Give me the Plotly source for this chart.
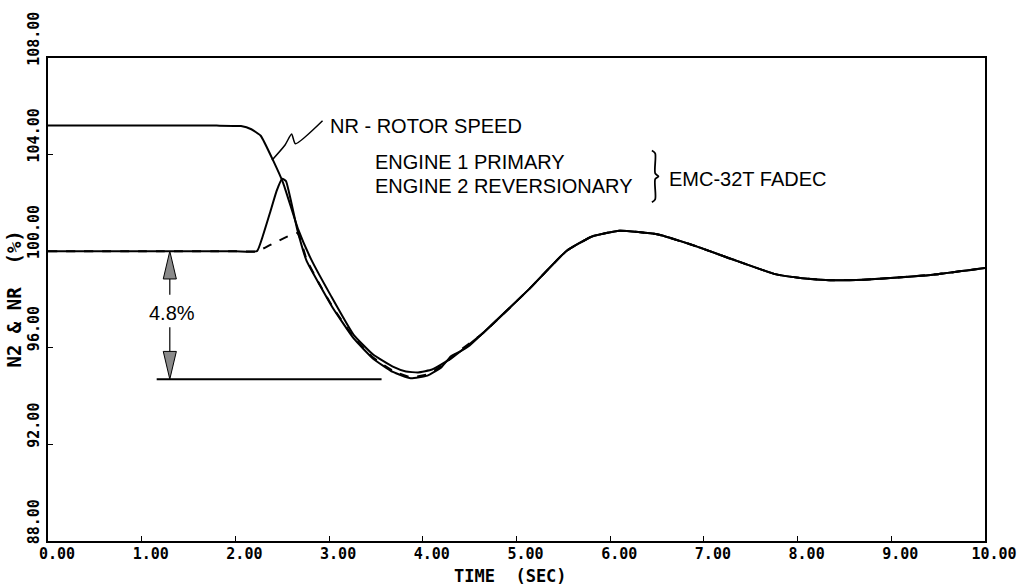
import plotly.graph_objects as go

# ---------------- data ----------------
time_ticks = [0, 1, 2, 3, 4, 5, 6, 7, 8, 9, 10]
time_tick_text = ["0.00", "1.00", "2.00", "3.00", "4.00", "5.00", "6.00", "7.00", "8.00", "9.00", "10.00"]
pct_ticks = [88, 92, 96, 100, 104, 108]
pct_tick_text = ["88.00", "92.00", "96.00", "100.00", "104.00", "108.00"]
x_title = "TIME  (SEC)"
y_title = "N2 & NR  (%)"

# NR - rotor speed (solid)
nr_t = [0.0, 1.0, 1.8, 2.06, 2.17, 2.27, 2.40, 2.51, 2.67, 2.81, 3.02, 3.26, 3.47, 3.68, 3.82, 3.95, 4.10, 4.30,
        4.64, 5.14, 5.53, 5.80, 6.10, 6.50, 6.92, 7.35, 7.76, 8.05, 8.35, 8.70, 9.03, 9.50, 10.0]
nr_v = [105.2, 105.2, 105.2, 105.18, 105.05, 104.78, 103.78, 102.82, 100.9, 99.65, 98.15, 96.55, 95.72, 95.22, 95.02, 94.98, 95.1, 95.55,
        96.6, 98.45, 100.0, 100.6, 100.85, 100.7, 100.2, 99.6, 99.05, 98.88, 98.8, 98.82, 98.9, 99.05, 99.3]

# N2 engine 1 (solid, spikes up)
n2a_t = [0.0, 1.0, 2.0, 2.23, 2.29, 2.37, 2.44, 2.50, 2.54, 2.66, 2.76, 2.90, 3.04, 3.26, 3.47, 3.68, 3.87, 4.05, 4.20, 4.30,
         4.40, 4.50, 4.64, 5.14, 5.53, 5.80, 6.10, 6.50, 6.92, 7.35, 7.76, 8.05, 8.35, 8.70, 9.03, 9.50, 10.0]
n2a_v = [100.0, 100.0, 100.0, 100.0, 100.6, 101.6, 102.5, 103.0, 102.9, 100.9, 99.6, 98.6, 97.65, 96.4, 95.55, 95.0, 94.74, 94.85, 95.2, 95.65,
         95.85, 96.1, 96.6, 98.45, 100.0, 100.6, 100.85, 100.7, 100.2, 99.6, 99.05, 98.88, 98.8, 98.82, 98.9, 99.05, 99.3]

# N2 engine 2 (dashed, gentle rise)
n2b_t = [0.0, 1.0, 2.0, 2.23, 2.66, 2.76, 2.90, 3.04, 3.26, 3.47, 3.68, 3.87, 4.05, 4.20, 4.40, 4.64, 5.14, 5.53, 5.80, 6.10,
         6.50, 6.92, 7.35, 7.76, 8.05, 8.35, 8.70, 9.03, 9.50, 10.0]
n2b_v = [100.0, 100.0, 100.0, 100.0, 100.75, 99.65, 98.62, 97.68, 96.45, 95.6, 95.05, 94.78, 94.9, 95.25, 95.9, 96.6, 98.45, 100.0, 100.6, 100.85,
         100.7, 100.2, 99.6, 99.05, 98.88, 98.8, 98.82, 98.9, 99.05, 99.3]

# droop dimension
droop_t = 1.30
droop_top = 100.0
droop_bottom = 94.7
droop_line_t = [1.16, 3.56]
droop_label = "4.8%"

# leader from the NR curve to its label
leader_t = [2.39, 2.53, 2.60, 2.64, 2.93]
leader_v = [103.77, 104.4, 104.85, 104.45, 105.4]

# brace grouping the two engine lines
brace_t = 6.48
brace_v = 103.1
brace_half = 1.07   # half height in % units

BLACK = "#000000"
MONO = "DejaVu Sans Mono"
SANS = "Liberation Sans, Arial, sans-serif"

fig = go.Figure()

spl = dict(shape="spline", smoothing=0.4)
fig.add_trace(go.Scatter(x=n2b_t, y=n2b_v, mode="lines",
                         line=dict(color=BLACK, width=2, dash="dash", **spl),
                         showlegend=False, hoverinfo="skip"))
fig.add_trace(go.Scatter(x=n2a_t, y=n2a_v, mode="lines",
                         line=dict(color=BLACK, width=2, **spl),
                         showlegend=False, hoverinfo="skip"))
fig.add_trace(go.Scatter(x=nr_t, y=nr_v, mode="lines",
                         line=dict(color=BLACK, width=2, **spl),
                         showlegend=False, hoverinfo="skip"))

# leader line
fig.add_trace(go.Scatter(x=leader_t, y=leader_v, mode="lines",
                         line=dict(color=BLACK, width=1.5, shape="spline", smoothing=0.6),
                         showlegend=False, hoverinfo="skip"))

# droop reference line
fig.add_trace(go.Scatter(x=droop_line_t, y=[droop_bottom, droop_bottom], mode="lines",
                         line=dict(color=BLACK, width=2), showlegend=False, hoverinfo="skip"))

# dimension arrow shafts
head_len = 1.15   # in % units
head_half = 0.07  # in seconds
label_v = (droop_top + droop_bottom) / 2 + 0.1
fig.add_trace(go.Scatter(x=[droop_t, droop_t], y=[droop_top - head_len, label_v + 0.75], mode="lines",
                         line=dict(color=BLACK, width=1.2), showlegend=False, hoverinfo="skip"))
fig.add_trace(go.Scatter(x=[droop_t, droop_t], y=[label_v - 0.6, droop_bottom + head_len], mode="lines",
                         line=dict(color=BLACK, width=1.2), showlegend=False, hoverinfo="skip"))
# arrow heads
fig.add_trace(go.Scatter(x=[droop_t, droop_t - head_half, droop_t + head_half, droop_t],
                         y=[droop_top, droop_top - head_len, droop_top - head_len, droop_top],
                         mode="lines", fill="toself", fillcolor="#8a8a8a",
                         line=dict(color=BLACK, width=1), showlegend=False, hoverinfo="skip"))
fig.add_trace(go.Scatter(x=[droop_t, droop_t - head_half, droop_t + head_half, droop_t],
                         y=[droop_bottom, droop_bottom + head_len, droop_bottom + head_len, droop_bottom],
                         mode="lines", fill="toself", fillcolor="#8a8a8a",
                         line=dict(color=BLACK, width=1), showlegend=False, hoverinfo="skip"))

# brace "}" drawn as a thin line
bw = 0.035
fig.add_trace(go.Scatter(
    x=[brace_t - bw, brace_t, brace_t, brace_t + bw, brace_t, brace_t, brace_t - bw],
    y=[brace_v + brace_half, brace_v + brace_half - 0.12, brace_v + 0.12, brace_v,
       brace_v - 0.12, brace_v - brace_half + 0.12, brace_v - brace_half],
    mode="lines", line=dict(color=BLACK, width=1.8, shape="spline", smoothing=0.8),
    showlegend=False, hoverinfo="skip"))

ann_font = dict(family=SANS, size=20, color=BLACK)
title_font_x = dict(family=MONO, size=17, color=BLACK, weight="bold")
title_font_y = dict(family=MONO, size=19, color=BLACK, weight="bold")
annotations = [
    dict(x=droop_t + 0.02, y=label_v, text=droop_label, showarrow=False, font=ann_font,
         xanchor="center", yanchor="middle"),
    dict(x=2.99, y=105.2, text="NR - ROTOR SPEED", showarrow=False, font=ann_font,
         xanchor="left", yanchor="middle"),
    dict(x=3.47, y=103.68, text="ENGINE 1 PRIMARY", showarrow=False, font=ann_font,
         xanchor="left", yanchor="middle"),
    dict(x=3.47, y=102.7, text="ENGINE 2 REVERSIONARY", showarrow=False, font=ann_font,
         xanchor="left", yanchor="middle"),
    dict(x=brace_t + 0.13, y=brace_v - 0.12, text="EMC-32T FADEC", showarrow=False, font=ann_font,
         xanchor="left", yanchor="middle"),
    # axis titles
    dict(x=0.494, y=0, xref="paper", yref="paper", text=x_title, showarrow=False, font=title_font_x,
         xanchor="center", yanchor="middle", yshift=-35),
    dict(x=0, y=0.5, xref="paper", yref="paper", text=y_title, showarrow=False, font=title_font_y,
         xanchor="center", yanchor="middle", xshift=-35, textangle=-90),
]

tick_font = dict(family=MONO, size=15, color=BLACK, weight="bold")

fig.update_layout(
    width=1023, height=586,
    margin=dict(l=48, r=38, t=58, b=45),
    paper_bgcolor="white", plot_bgcolor="white",
    annotations=annotations,
    showlegend=False,
    xaxis=dict(range=[0, 10], tickvals=time_ticks, ticktext=time_tick_text,
               showgrid=False, zeroline=False, showline=True, mirror=True, automargin=False,
               linecolor=BLACK, linewidth=2, ticks="inside", ticklen=5, tickcolor=BLACK,
               tickfont=tick_font, ticklabelshift=9, ticklabelstandoff=-2),
    yaxis=dict(range=[88, 108], tickvals=pct_ticks, ticktext=pct_tick_text,
               showgrid=False, zeroline=False, showline=True, mirror=True, automargin=False,
               linecolor=BLACK, linewidth=2, ticks="inside", ticklen=5, tickcolor=BLACK,
               tickfont=tick_font, tickangle=-90, ticklabelshift=-17, ticklabelstandoff=1),
)

fig.write_html("out.html")
